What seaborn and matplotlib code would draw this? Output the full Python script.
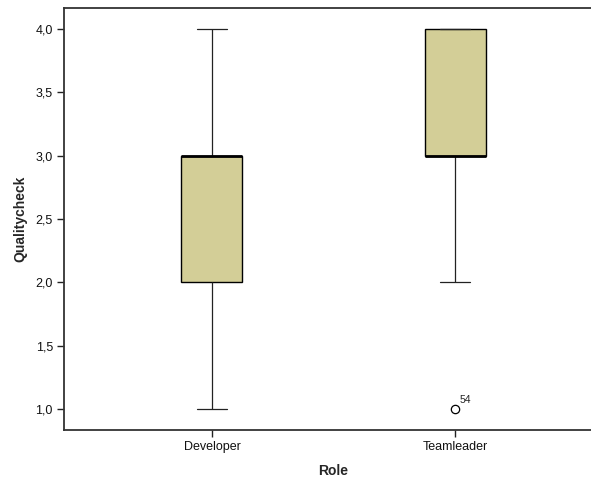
import numpy as np
import pandas as pd
import matplotlib
matplotlib.use("Agg")
import matplotlib.pyplot as plt
import seaborn as sns
from matplotlib.ticker import FuncFormatter

roles = ["Developer", "Teamleader"]
developer_scores = [1, 2, 2, 3, 3, 3, 4]
teamleader_scores = [1, 2, 3, 3, 3, 3, 4, 4, 4, 4]
outlier_label = "54"
y_ticks = [1.0, 1.5, 2.0, 2.5, 3.0, 3.5, 4.0]

df = pd.DataFrame({
    "Role": ["Developer"] * len(developer_scores) + ["Teamleader"] * len(teamleader_scores),
    "Qualitycheck": developer_scores + teamleader_scores,
})

sns.set_style("white")
plt.rcParams["font.family"] = ["Liberation Sans", "DejaVu Sans"]

fig = plt.figure(figsize=(5.91, 4.80), dpi=100)
W, H = 591, 480
left, right, top, bottom = 64, 603, 8, 430
ax = fig.add_axes([left / W, 1 - bottom / H, (right - left) / W, (bottom - top) / H])

fill = "#D3CE97"
sns.boxplot(
    data=df, x="Role", y="Qualitycheck", order=roles, ax=ax,
    width=0.251, color=fill, saturation=1, whis=1.5,
    boxprops=dict(facecolor=fill, edgecolor="black", linewidth=1.0),
    whiskerprops=dict(color="#222222", linewidth=0.9),
    capprops=dict(color="#222222", linewidth=0.9),
    medianprops=dict(color="black", linewidth=2.0),
    flierprops=dict(marker="o", markerfacecolor="white", markeredgecolor="black",
                    markersize=6, markeredgewidth=0.9),
)

ax.text(1 + 0.02, 1.0 + 0.03, outlier_label, fontsize=7.5, ha="left", va="bottom")

ax.set_xlim(-0.609, 1.609)
ax.set_ylim(0.834, 4.166)
ax.set_yticks(y_ticks)
ax.yaxis.set_major_formatter(FuncFormatter(lambda v, p: f"{v:.1f}".replace(".", ",")))

for s in ["left", "bottom", "top"]:
    ax.spines[s].set_visible(True)
    ax.spines[s].set_color("#333333")
    ax.spines[s].set_linewidth(1.3)
ax.spines["right"].set_visible(False)

ax.tick_params(axis="both", which="major", direction="out", length=5, width=1,
               color="#222222", labelsize=9, labelcolor="#111111", pad=3)
ax.tick_params(axis="y", left=True)
ax.tick_params(axis="x", bottom=True)

ax.set_xlabel("Role", fontsize=10, fontweight="bold", labelpad=8)
ax.set_ylabel("Qualitycheck", fontsize=10, fontweight="bold", labelpad=6)

fig.savefig("out.png", dpi=100)
